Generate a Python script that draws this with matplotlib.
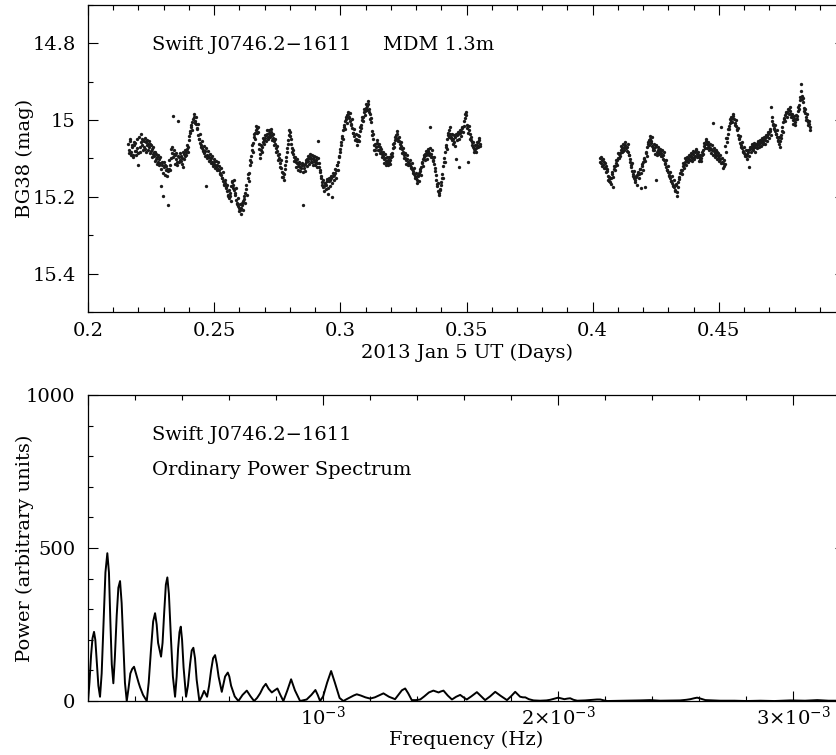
import numpy as np
import matplotlib
matplotlib.use("Agg")
from matplotlib import pyplot as plt
from matplotlib.ticker import MultipleLocator

# DATOS
# Curva de luz (BG38). Dos series intercaladas por tramo, una medida cada
# 0.0004 dias; la serie "b" va desplazada media cadencia.
t1_inicio = 0.2160
t2_inicio = 0.4028
cadencia = 0.0004

mag1 = [
    15.062, 15.078, 15.055, 15.083, 15.070, 15.091, 15.066, 15.059, 15.080, 15.073,
    15.118, 15.071, 15.036, 15.064, 15.052, 15.069, 15.075, 15.057, 15.066, 15.061,
    15.071, 15.062, 15.080, 15.076, 15.089, 15.094, 15.083, 15.102, 15.097, 15.108,
    15.101, 15.112, 15.172, 15.108, 15.199, 15.121, 15.118, 15.131, 15.127, 15.221,
    15.128, 15.117, 15.098, 15.085, 14.989, 15.079, 15.092, 15.101, 15.108, 15.003,
    15.097, 15.104, 15.093, 15.099, 15.123, 15.088, 15.094, 15.084, 15.076, 15.069,
    15.041, 15.028, 15.019, 15.005, 14.998, 14.992, 15.003, 15.011, 15.021, 15.038,
    15.048, 15.060, 15.064, 15.072, 15.079, 15.085, 15.081, 15.171, 15.090, 15.094,
    15.096, 15.103, 15.099, 15.108, 15.114, 15.109, 15.118, 15.122, 15.116, 15.127,
    15.129, 15.138, 15.142, 15.151, 15.158, 15.166, 15.163, 15.178, 15.185, 15.196,
    15.203, 15.198, 15.172, 15.161, 15.168, 15.182, 15.190, 15.207, 15.215, 15.224,
    15.230, 15.235, 15.228, 15.220, 15.211, 15.198, 15.189, 15.170, 15.152, 15.138,
    15.116, 15.094, 15.077, 15.060, 15.043, 15.033, 15.027, 15.021, 15.030, 15.062,
    15.088, 15.079, 15.070, 15.058, 15.052, 15.046, 15.040, 15.036, 15.043, 15.034,
    15.038, 15.031, 15.040, 15.047, 15.055, 15.063, 15.072, 15.081, 15.092, 15.099,
    15.112, 15.125, 15.136, 15.149, 15.141, 15.117, 15.095, 15.072, 15.052, 15.038,
    15.031, 15.050, 15.072, 15.089, 15.096, 15.104, 15.110, 15.113, 15.119, 15.115,
    15.121, 15.126, 15.118, 15.221, 15.124, 15.115, 15.109, 15.102, 15.106, 15.098,
    15.097, 15.102, 15.108, 15.099, 15.105, 15.110, 15.103, 15.112, 15.054, 15.122,
    15.135, 15.152, 15.168, 15.175, 15.172, 15.164, 15.169, 15.158, 15.192, 15.160,
    15.157, 15.152, 15.201, 15.146, 15.143, 15.138, 15.129, 15.118, 15.108, 15.094,
    15.075, 15.058, 15.041, 15.027, 15.012, 15.003, 14.996, 14.988, 14.983, 14.993,
    15.002, 15.010, 15.021, 15.034, 15.041, 15.048, 15.055, 15.051, 15.042, 15.029,
    15.013, 15.001, 14.992, 14.980, 14.975, 14.969, 14.963, 14.958, 14.971, 14.985,
    15.006, 15.028, 15.048, 15.066, 15.079, 15.071, 15.060, 15.068, 15.077, 15.070,
    15.082, 15.088, 15.094, 15.101, 15.098, 15.106, 15.112, 15.104, 15.109, 15.103,
    15.097, 15.085, 15.072, 15.060, 15.051, 15.040, 15.036, 15.046, 15.055, 15.061,
    15.068, 15.075, 15.083, 15.090, 15.098, 15.104, 15.101, 15.108, 15.113, 15.117,
    15.121, 15.128, 15.133, 15.140, 15.146, 15.152, 15.155, 15.146, 15.139, 15.132,
    15.121, 15.110, 15.101, 15.095, 15.089, 15.092, 15.085, 15.080, 15.086, 15.018,
    15.088, 15.096, 15.105, 15.115, 15.132, 15.155, 15.172, 15.184, 15.190, 15.181,
    15.162, 15.141, 15.119, 15.098, 15.082, 15.064, 15.048, 15.033, 15.026, 15.035,
    15.044, 15.052, 15.049, 15.058, 15.045, 15.101, 15.040, 15.037, 15.122, 15.033,
    15.028, 15.020, 15.015, 14.985, 14.978, 15.012, 15.108, 15.025, 15.037, 15.044,
    15.058, 15.069, 15.075, 15.081, 15.072, 15.065, 15.058, 15.052, 15.061,
]
mag1b = [
    15.085, 15.049, 15.090, 15.064, 15.097, 15.058, 15.081, 15.092, 15.048, 15.086,
    15.045, 15.083, 15.058, 15.049, 15.078, 15.054, 15.047, 15.082, 15.051, 15.077,
    15.055, 15.087, 15.064, 15.095, 15.071, 15.083, 15.106, 15.088, 15.115, 15.092,
    15.118, 15.095, 15.127, 15.116, 15.137, 15.109, 15.142, 15.120, 15.145, 15.133,
    15.104, 15.131, 15.076, 15.069, 15.097, 15.088, 15.115, 15.085, 15.117, 15.094,
    15.110, 15.086, 15.107, 15.115, 15.082, 15.101, 15.078, 15.092, 15.065, 15.083,
    15.052, 15.034, 15.012, 15.026, 14.985, 15.007, 14.991, 15.024, 15.009, 15.050,
    15.037, 15.071, 15.055, 15.081, 15.068, 15.094, 15.074, 15.098, 15.080, 15.107,
    15.088, 15.112, 15.093, 15.120, 15.102, 15.124, 15.107, 15.131, 15.110, 15.119,
    15.140, 15.125, 15.150, 15.136, 15.168, 15.155, 15.174, 15.170, 15.197, 15.183,
    15.190, 15.212, 15.160, 15.178, 15.155, 15.195, 15.176, 15.218, 15.202, 15.236,
    15.219, 15.244, 15.216, 15.233, 15.205, 15.217, 15.180, 15.196, 15.141, 15.160,
    15.105, 15.109, 15.066, 15.083, 15.035, 15.050, 15.016, 15.034, 15.018, 15.075,
    15.099, 15.066, 15.082, 15.047, 15.063, 15.038, 15.055, 15.027, 15.049, 15.026,
    15.045, 15.024, 15.051, 15.036, 15.066, 15.049, 15.084, 15.068, 15.103, 15.088,
    15.121, 15.104, 15.147, 15.137, 15.155, 15.128, 15.106, 15.083, 15.063, 15.025,
    15.042, 15.061, 15.083, 15.078, 15.107, 15.095, 15.122, 15.101, 15.130, 15.108,
    15.132, 15.112, 15.135, 15.117, 15.133, 15.104, 15.120, 15.093, 15.115, 15.089,
    15.108, 15.090, 15.116, 15.093, 15.118, 15.097, 15.121, 15.100, 15.113, 15.131,
    15.146, 15.162, 15.157, 15.184, 15.163, 15.180, 15.153, 15.176, 15.150, 15.171,
    15.146, 15.165, 15.138, 15.156, 15.128, 15.150, 15.117, 15.131, 15.097, 15.084,
    15.066, 15.047, 15.050, 15.018, 15.024, 14.991, 15.007, 14.979, 14.995, 14.981,
    15.014, 14.998, 15.033, 15.022, 15.052, 15.037, 15.064, 15.040, 15.054, 15.018,
    15.021, 14.992, 15.003, 14.970, 14.986, 14.957, 14.974, 14.949, 14.980, 14.997,
    14.995, 15.040, 15.036, 15.078, 15.063, 15.088, 15.052, 15.079, 15.062, 15.085,
    15.075, 15.097, 15.083, 15.112, 15.089, 15.118, 15.097, 15.116, 15.095, 15.114,
    15.089, 15.094, 15.063, 15.069, 15.043, 15.049, 15.028, 15.055, 15.044, 15.072,
    15.058, 15.086, 15.074, 15.098, 15.086, 15.114, 15.092, 15.118, 15.104, 15.126,
    15.112, 15.139, 15.124, 15.151, 15.137, 15.163, 15.144, 15.160, 15.128, 15.143,
    15.112, 15.120, 15.092, 15.104, 15.080, 15.101, 15.076, 15.091, 15.074, 15.095,
    15.079, 15.107, 15.096, 15.126, 15.143, 15.166, 15.163, 15.195, 15.179, 15.170,
    15.151, 15.150, 15.108, 15.110, 15.071, 15.075, 15.040, 15.044, 15.018, 15.046,
    15.036, 15.061, 15.040, 15.067, 15.037, 15.053, 15.031, 15.048, 15.027, 15.042,
    15.019, 15.031, 15.003, 14.994, 14.987, 15.021, 15.033, 15.016, 15.049, 15.051,
    15.066, 15.058, 15.084, 15.064, 15.083, 15.056, 15.071, 15.046, 15.068,
]

# Segundo tramo (despues del hueco)
mag2 = [
    15.098, 15.112, 15.105, 15.116, 15.109, 15.124, 15.119, 15.133, 15.145, 15.158,
    15.162, 15.151, 15.141, 15.174, 15.128, 15.120, 15.112, 15.104, 15.098, 15.089,
    15.085, 15.078, 15.072, 15.080, 15.069, 15.065, 15.074, 15.070, 15.084, 15.092,
    15.108, 15.121, 15.132, 15.145, 15.150, 15.157, 15.149, 15.142, 15.136, 15.140,
    15.128, 15.176, 15.120, 15.110, 15.098, 15.174, 15.085, 15.070, 15.058, 15.052,
    15.048, 15.055, 15.067, 15.072, 15.079, 15.070, 15.157, 15.082, 15.077, 15.085,
    15.081, 15.087, 15.094, 15.090, 15.104, 15.113, 15.122, 15.130, 15.136, 15.143,
    15.150, 15.158, 15.163, 15.170, 15.175, 15.181, 15.168, 15.199, 15.162, 15.148,
    15.139, 15.129, 15.120, 15.114, 15.109, 15.103, 15.106, 15.098, 15.102, 15.094,
    15.093, 15.099, 15.088, 15.095, 15.084, 15.079, 15.088, 15.091, 15.097, 15.102,
    15.098, 15.091, 15.079, 15.068, 15.061, 15.055, 15.063, 15.069, 15.066, 15.072,
    15.075, 15.079, 15.007, 15.081, 15.086, 15.090, 15.084, 15.093, 15.098, 15.101,
    15.017, 15.108, 15.112, 15.119, 15.115, 15.082, 15.058, 15.035, 15.015, 15.008,
    15.002, 14.995, 14.990, 14.998, 15.008, 15.015, 15.026, 15.038, 15.049, 15.060,
    15.066, 15.073, 15.080, 15.085, 15.091, 15.094, 15.089, 15.083, 15.122, 15.075,
    15.072, 15.068, 15.074, 15.066, 15.070, 15.062, 15.065, 15.058, 15.063, 15.060,
    15.056, 15.052, 15.058, 15.049, 15.053, 15.045, 15.041, 15.036, 15.032, 15.028,
    14.966, 15.003, 15.012, 15.021, 15.028, 15.036, 15.045, 15.053, 15.061, 15.055,
    15.040, 15.018, 15.005, 14.994, 14.987, 14.982, 14.978, 14.973, 14.976, 14.985,
    14.992, 15.001, 14.998, 15.004, 14.996, 14.989, 14.975, 14.960, 14.948, 14.905,
    14.938, 14.952, 14.968, 14.981, 14.992, 15.000, 15.006, 15.011, 15.017,
]
mag2b = [
    15.108, 15.097, 15.119, 15.101, 15.126, 15.112, 15.135, 15.127, 15.156, 15.148,
    15.150, 15.166, 15.135, 15.149, 15.119, 15.131, 15.103, 15.117, 15.085, 15.100,
    15.094, 15.068, 15.083, 15.061, 15.078, 15.057, 15.081, 15.063, 15.092, 15.101,
    15.117, 15.112, 15.141, 15.133, 15.161, 15.145, 15.168, 15.137, 15.150, 15.128,
    15.137, 15.115, 15.131, 15.101, 15.107, 15.082, 15.094, 15.063, 15.066, 15.042,
    15.060, 15.043, 15.078, 15.061, 15.088, 15.066, 15.090, 15.071, 15.089, 15.076,
    15.094, 15.079, 15.101, 15.083, 15.114, 15.104, 15.131, 15.119, 15.146, 15.134,
    15.159, 15.145, 15.171, 15.156, 15.185, 15.166, 15.188, 15.174, 15.154, 15.139,
    15.130, 15.141, 15.113, 15.126, 15.100, 15.117, 15.095, 15.110, 15.091, 15.104,
    15.086, 15.107, 15.081, 15.102, 15.094, 15.075, 15.097, 15.082, 15.106, 15.090,
    15.107, 15.083, 15.088, 15.060, 15.072, 15.049, 15.074, 15.057, 15.078, 15.063,
    15.086, 15.066, 15.090, 15.073, 15.095, 15.078, 15.101, 15.086, 15.107, 15.092,
    15.112, 15.099, 15.124, 15.104, 15.068, 15.046, 15.047, 15.024, 15.022, 14.997,
    14.993, 15.006, 14.985, 15.012, 15.000, 15.024, 15.020, 15.046, 15.041, 15.070,
    15.058, 15.084, 15.071, 15.094, 15.079, 15.101, 15.078, 15.093, 15.069, 15.083,
    15.063, 15.078, 15.059, 15.082, 15.061, 15.074, 15.055, 15.069, 15.051, 15.067,
    15.047, 15.063, 15.044, 15.061, 15.040, 15.054, 15.030, 15.046, 15.023, 15.038,
    14.992, 15.011, 15.022, 15.013, 15.037, 15.027, 15.054, 15.044, 15.070, 15.047,
    15.028, 15.030, 14.996, 15.003, 14.979, 14.991, 14.970, 14.984, 14.966, 14.993,
    14.983, 15.010, 14.990, 15.013, 14.988, 14.998, 14.966, 14.970, 14.940, 14.925,
    14.946, 14.943, 14.977, 14.972, 15.001, 14.985, 15.014, 15.003, 15.025,
]

# Espectro de potencia: frecuencia (en unidades de 1e-3 Hz) y potencia
frec_mhz = [
    0.000, 0.006, 0.013, 0.019, 0.0255, 0.031, 0.038, 0.044, 0.051, 0.058,
    0.066, 0.074, 0.0821, 0.089, 0.095, 0.101, 0.1077, 0.114, 0.122, 0.129,
    0.1362, 0.143, 0.150, 0.157, 0.1647, 0.172, 0.180, 0.188, 0.1957, 0.202,
    0.208, 0.215, 0.2213, 0.234, 0.2498, 0.258, 0.268, 0.277, 0.2851, 0.292,
    0.298, 0.3106, 0.317, 0.324, 0.331, 0.3374, 0.344, 0.353, 0.361, 0.3702,
    0.377, 0.383, 0.389, 0.3945, 0.400, 0.4064, 0.417, 0.425, 0.434, 0.441,
    0.4481, 0.455, 0.462, 0.4736, 0.484, 0.4936, 0.5064, 0.515, 0.5234, 0.532,
    0.5404, 0.548, 0.5553, 0.5689, 0.576, 0.583, 0.5945, 0.601, 0.6085, 0.624,
    0.6396, 0.6574, 0.6753, 0.6915, 0.7064, 0.719, 0.7319, 0.745, 0.7562, 0.7681,
    0.7817, 0.794, 0.8055, 0.818, 0.831, 0.848, 0.8638, 0.880, 0.902, 0.930,
    0.950, 0.9672, 0.977, 0.987, 1.000, 1.017, 1.034, 1.050, 1.070, 1.086,
    1.100, 1.115, 1.130, 1.143, 1.160, 1.180, 1.200, 1.220, 1.2566, 1.280,
    1.306, 1.320, 1.335, 1.349, 1.362, 1.377, 1.395, 1.413, 1.430, 1.450,
    1.469, 1.480, 1.491, 1.500, 1.512, 1.530, 1.548, 1.566, 1.583, 1.597,
    1.611, 1.630, 1.654, 1.670, 1.689, 1.710, 1.732, 1.755, 1.782, 1.800,
    1.817, 1.830, 1.838, 1.850, 1.860, 1.875, 1.895, 1.923, 1.950, 1.966,
    1.985, 2.000, 2.015, 2.026, 2.040, 2.051, 2.065, 2.081, 2.115, 2.149,
    2.165, 2.179, 2.195, 2.209, 2.280, 2.349, 2.391, 2.434, 2.519, 2.545,
    2.562, 2.578, 2.591, 2.605, 2.626, 2.689, 2.750, 2.800, 2.860, 2.920,
    2.987, 3.050, 3.102, 3.150, 3.221,
]
potencia = [
    0, 60, 150, 205, 226, 200, 120, 50, 14, 90,
    260, 420, 483, 420, 260, 120, 58, 140, 280, 370,
    392, 320, 190, 60, 0, 40, 90, 105, 112, 95,
    80, 60, 45, 20, 0, 60, 170, 260, 287, 250,
    190, 145, 190, 290, 380, 404, 350, 200, 80, 14,
    80, 170, 225, 243, 200, 110, 14, 50, 120, 165,
    174, 140, 70, 0, 15, 33, 14, 50, 100, 140,
    150, 120, 80, 30, 55, 80, 93, 80, 50, 15,
    0, 20, 34, 15, 0, 10, 25, 45, 56, 40,
    28, 35, 41, 20, 0, 35, 71, 35, 0, 5,
    20, 36, 20, 0, 15, 60, 98, 60, 10, 0,
    6, 12, 18, 22, 18, 12, 8, 12, 25, 14,
    6, 20, 35, 41, 25, 3, 3, 5, 15, 28,
    34, 31, 28, 31, 34, 18, 5, 14, 20, 12,
    5, 15, 29, 17, 3, 15, 30, 17, 3, 16,
    30, 20, 14, 12, 12, 6, 2, 1, 2, 4,
    8, 11, 8, 6, 8, 9, 4, 1, 2, 4,
    5, 5, 2, 0, 1, 2, 3, 1, 2, 4,
    6, 9, 11, 8, 3, 1, 1, 0, 1, 0,
    2, 1, 3, 1, 1,
]

# ESTILO
plt.rcParams['font.family'] = ['DejaVu Serif']
plt.rcParams['mathtext.fontset'] = 'dejavuserif'
plt.rcParams['font.size'] = 14


def ejes_estilo(ax):
    ax.tick_params(which='both', direction='in', top=True, right=True, width=0.8)
    ax.tick_params(which='major', length=7.2)
    ax.tick_params(which='minor', length=3.6)
    for s in ax.spines.values():
        s.set_linewidth(0.9)


fig = plt.figure(figsize=(8.36, 7.55), dpi=100)

# PANEL SUPERIOR: curva de luz
ax1 = fig.add_axes([0.1053, 0.5868, 0.9055, 0.4066])
t1 = t1_inicio + cadencia * np.arange(len(mag1))
t2 = t2_inicio + cadencia * np.arange(len(mag2))
for t, m in [(t1, mag1), (t1 + cadencia / 2, mag1b),
             (t2, mag2), (t2 + cadencia / 2, mag2b)]:
    ax1.plot(t, m, 'o', color='#1a1a1a', ms=2.4, mew=0)
ax1.set_xlim(0.2, 0.5)
ax1.set_ylim(15.5, 14.7)
ax1.set_xticks([0.2, 0.25, 0.3, 0.35, 0.4, 0.45],
               labels=['0.2', '0.25', '0.3', '0.35', '0.4', '0.45'])
ax1.xaxis.set_minor_locator(MultipleLocator(0.01))
ax1.set_yticks([14.8, 15.0, 15.2, 15.4], labels=['14.8', '15', '15.2', '15.4'])
ax1.yaxis.set_minor_locator(MultipleLocator(0.1))
ejes_estilo(ax1)
ax1.tick_params(axis='x', pad=7)
ax1.tick_params(axis='y', pad=9)
ax1.set_xlabel('2013 Jan 5 UT (Days)')
ax1.set_ylabel('BG38 (mag)')
ax1.xaxis.set_label_coords(0.5, -0.103)
ax1.yaxis.set_label_coords(-0.071, 0.5)
ax1.text(0.0845, 0.853, 'Swift J0746.2\u22121611', transform=ax1.transAxes,
         ha='left', va='baseline')
ax1.text(0.390, 0.853, 'MDM 1.3m', transform=ax1.transAxes,
         ha='left', va='baseline')

# PANEL INFERIOR: espectro de potencia
ax2 = fig.add_axes([0.1053, 0.0715, 0.9055, 0.4053])
frec = np.array(frec_mhz) * 1e-3
ax2.plot(frec, potencia, '-', color='black', lw=1.4)
ax2.set_xlim(0, 3.22e-3)
ax2.set_ylim(0, 1000)
ax2.set_xticks([0.0, 1e-3, 2e-3, 3e-3],
               labels=['', r'$10^{-3}$', r'$2{\times}10^{-3}$', r'$3{\times}10^{-3}$'])
ax2.xaxis.set_minor_locator(MultipleLocator(2e-4))
ax2.set_yticks([0, 500, 1000], labels=['0', '500', '1000'])
ax2.yaxis.set_minor_locator(MultipleLocator(100))
ejes_estilo(ax2)
ax2.tick_params(axis='x', pad=3)
ax2.tick_params(axis='y', pad=9)
ax2.set_xlabel('Frequency (Hz)')
ax2.set_ylabel('Power (arbitrary units)')
ax2.xaxis.set_label_coords(0.5, -0.098)
ax2.yaxis.set_label_coords(-0.071, 0.5)
ax2.text(0.0845, 0.853, 'Swift J0746.2\u22121611', transform=ax2.transAxes,
         ha='left', va='baseline')
ax2.text(0.0845, 0.739, 'Ordinary Power Spectrum', transform=ax2.transAxes,
         ha='left', va='baseline')

fig.savefig('out.png', dpi=100)
